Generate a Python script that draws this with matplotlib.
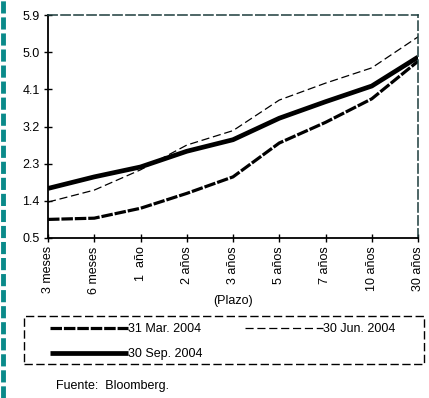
import matplotlib
matplotlib.use('Agg')
import matplotlib.pyplot as plt
from matplotlib.lines import Line2D
from matplotlib.patches import Rectangle

plt.rcParams['font.family'] = ['Liberation Sans', 'DejaVu Sans']

# 数据
plazos = ['3 meses', '6 meses', '1  año', '2 años', '3 años', '5 años', '7 años', '10 años', '30 años']
mar_2004 = [0.95, 0.98, 1.22, 1.58, 1.98, 2.80, 3.30, 3.87, 4.78]
jun_2004 = [1.37, 1.66, 2.15, 2.75, 3.10, 3.84, 4.25, 4.62, 5.37]
sep_2004 = [1.70, 1.98, 2.22, 2.60, 2.88, 3.40, 3.80, 4.18, 4.88]
yticks = [0.5, 1.4, 2.3, 3.2, 4.1, 5.0, 5.9]

W, H = 429, 398
fs = 9
fig = plt.figure(figsize=(W / 100, H / 100), dpi=100)
ax = fig.add_axes([48 / W, 1 - 238 / H, 370 / W, 223 / H])

x = list(range(len(plazos)))
l_mar, = ax.plot(x, mar_2004, color='black', lw=2.3, linestyle=(0, (3.6, 0.6)))
l_jun, = ax.plot(x, jun_2004, color='black', lw=0.9, linestyle=(0, (6.5, 3)))
l_sep, = ax.plot(x, sep_2004, color='black', lw=3.4, solid_capstyle='butt')

ax.set_xlim(0, len(plazos) - 1)
ax.set_ylim(0.5, 5.9)
ax.set_yticks(yticks)
ax.set_yticklabels([f'{v:.1f}' for v in yticks], fontsize=fs)
ax.set_xticks(x)
ax.set_xticklabels(plazos, rotation=90, fontsize=fs)
ax.tick_params(axis='both', direction='inout', length=6, width=1, pad=3, color='black')
ax.set_xlabel('(Plazo)', fontsize=fs, labelpad=1)

for s in ['top', 'right']:
    ax.spines[s].set_linestyle((0, (6, 2.5)))
    ax.spines[s].set_color('#1c3c3c')
    ax.spines[s].set_linewidth(1.1)
for s in ['left', 'bottom']:
    ax.spines[s].set_color('black')
    ax.spines[s].set_linewidth(1.3)

# 图例
fig.add_artist(Rectangle((24 / W, 1 - 364 / H), 400 / W, 48 / H, transform=fig.transFigure,
                         fill=False, edgecolor='black', lw=1.0, linestyle=(0, (6, 2.5))))
fig.legend([l_mar, l_sep, l_jun], ['31 Mar. 2004', '30 Sep. 2004', '30 Jun. 2004'],
           ncol=2, loc='upper left', bbox_to_anchor=(40 / W, 1 - 313 / H), frameon=False,
           fontsize=fs, handlelength=6.2, handletextpad=0.05, columnspacing=3.4,
           labelspacing=1.05, borderpad=0.3)

fig.text(56 / W, 1 - 386 / H, 'Fuente:  Bloomberg.', fontsize=fs, va='center', ha='left')

# 左边框
fig.add_artist(Line2D([3 / W, 3 / W], [0, 1], transform=fig.transFigure, color='#0a8a8a',
                      lw=3.5, linestyle=(0, (2.5, 0.8))))

fig.savefig('out.png', dpi=100)
